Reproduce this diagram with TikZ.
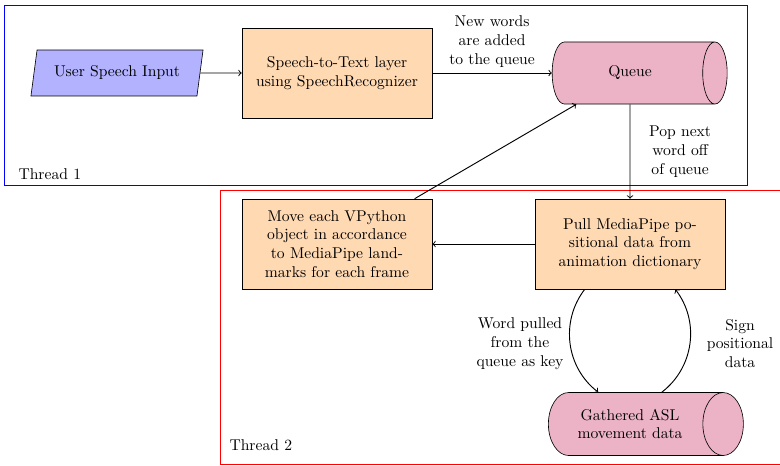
\documentclass[tikz,border=0pt]{standalone}
\usetikzlibrary{shapes.geometric}

\tikzset{
    io/.style={trapezium, trapezium left angle=78, trapezium right angle=102, trapezium stretches=true, draw, fill=blue!30, minimum width=110.7pt, minimum height=29.4pt},
    process/.style={rectangle, draw, fill=orange!30, minimum width=121.6pt, minimum height=57.6pt, text width=3.8cm, align=center},
    store/.style={cylinder, draw, fill=purple!30, align=center},
    lbl/.style={text width=2cm, align=center},
    flow/.style={->, semithick}
}

\begin{document}
\begin{tikzpicture}[x=0.64pt,y=-0.64pt]
        \useasboundingbox (0,0) rectangle (780,465);
        % thread boxes
        \draw[blue, semithick] (4,5) rectangle (747,185);
        \draw[red, semithick] (220,190) rectangle (800,464);
        \node[above right] (thread1) at (13,185) {Thread 1};
        \node[above right] (thread2) at (224,456) {Thread 2};
        % thread 1
        \node[io] (user) at (117,73) {User Speech Input};
        \node[process] (stt) at (337,73) {Speech-to-Text layer using SpeechRecognizer};
        \node[store, minimum height=112pt, minimum width=39.7pt] (queue) at (630,73) {Queue};
        % thread 2
        \node[process] (pull) at (630,244) {Pull MediaPipe po-\\sitional data from animation dictionary};
        \node[process] (move) at (337,244) {Move each VPython object in accordance to MediaPipe landmarks for each frame};
        \node[store, minimum height=124.8pt, minimum width=40.3pt] (asl) at (630,424) {Gathered ASL\\movement data};
        % connectors
        \draw[flow] (user) -- (stt);
        \draw[flow] (stt) -- node[midway,above,lbl] {New words are added to the queue} (queue);
        \draw[flow] (queue) -- node[midway,right,lbl] {Pop next word off of queue} (pull);
        \draw[flow] (pull) -- (move);
        \draw[flow] (move) -- (queue);
        \draw[flow] (pull) to[bend right=45] node[midway,left,lbl] {Word pulled from the queue as key} (asl);
        \draw[flow] (asl) to[bend right=45] node[midway,right,lbl] {Sign positional data} (pull);
    \end{tikzpicture}
\end{document}
